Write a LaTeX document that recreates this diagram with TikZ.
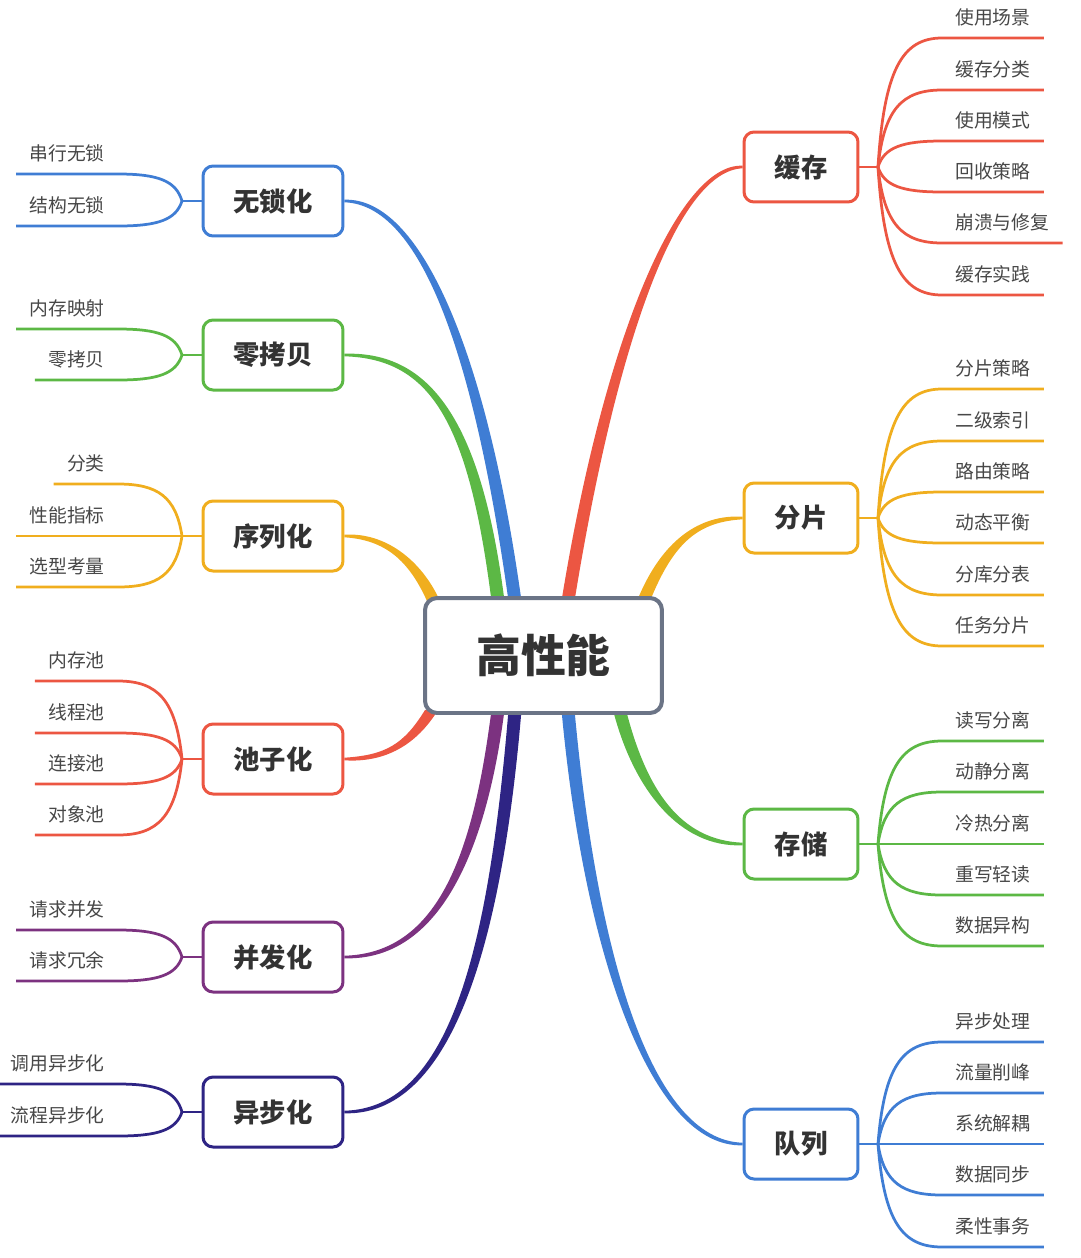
\documentclass[tikz,border=0pt]{standalone}
\usepackage{fontspec}
\setmainfont{Noto Sans CJK SC}
\usetikzlibrary{calc,backgrounds}

\definecolor{cred}{HTML}{EC5642}
\definecolor{corange}{HTML}{F0AE1E}
\definecolor{cgreen}{HTML}{5CB845}
\definecolor{cblue}{HTML}{3F7DD4}
\definecolor{cpurple}{HTML}{7C3280}
\definecolor{cnavy}{HTML}{2E2484}
\definecolor{hubgray}{HTML}{6B7486}
\definecolor{textdark}{HTML}{333333}
\definecolor{textgray}{HTML}{474747}

\tikzset{
  hub/.style={draw=hubgray, line width=0.08cm, rounded corners=0.24cm, fill=white,
    minimum width=4.74cm, minimum height=2.3cm, text=textdark,
    font=\fontsize{25.5}{30}\selectfont\bfseries},
  topic/.style={draw=#1, line width=0.06cm, rounded corners=0.2cm, fill=white,
    minimum height=1.4cm, text=textdark, font=\fontsize{15}{18}\selectfont\bfseries},
  rtopic/.style={topic=#1, minimum width=2.28cm},
  ltopic/.style={topic=#1, minimum width=2.8cm},
  leaf/.style={inner xsep=0.26cm, inner ysep=0.22cm, text height=0.8em, text depth=0.15em,
    text=textgray, font=\fontsize{10.7}{12}\selectfont},
  twig/.style={line width=0.055cm},
}

% thick-to-thin link from the hub to a topic
\newcommand{\mainlink}[6]{%
  \fill[#1] ($(#2)+(-6.5,0)$) .. controls ($(#3)+(-6.5,0)$) and ($(#4)+(0,3*#6)$) .. ($(#5)+(0,#6)$)
    -- ($(#5)-(0,#6)$) .. controls ($(#4)-(0,3*#6)$) and ($(#3)+(6.5,0)$) .. ($(#2)+(6.5,0)$) -- cycle;}

% leaf on the right: colour, junction, name, y, text
\newcommand{\rleaf}[5]{%
  \node[leaf, anchor=south west] (#3) at (942,#4) {#5};
  \draw[twig, #1] (#2) .. controls ($(#2)!0.75!(#2 |- #3.south west)+(6,0)$) and ($(#3.south west)+(-40,0)$) .. (#3.south west) -- (#3.south east);}

% leaf on the left: colour, junction, name, y, text
\newcommand{\lleaf}[5]{%
  \node[leaf, anchor=south east] (#3) at (118,#4) {#5};
  \draw[twig, #1] (#3.south west) -- (#3.south east) .. controls ($(#3.south east)+(40,0)$) and ($(#2)!0.75!(#2 |- #3.south east)+(-6,0)$) .. (#2);}

\begin{document}
\begin{tikzpicture}[x=0.02cm, y=-0.02cm]
  \useasboundingbox (0,0) rectangle (1080,1258);

  \node[hub] (hub) at (543.5,655.5) {高性能};

  % right side
  \node[rtopic=cred]    (cache) at (801,167)  {缓存};
  \node[rtopic=corange] (shard) at (801,518)  {分片};
  \node[rtopic=cgreen]  (store) at (801,844)  {存储};
  \node[rtopic=cblue]   (queue) at (801,1144) {队列};

  % left side
  \node[ltopic=cblue]   (lockfree) at (273,201)  {无锁化};
  \node[ltopic=cgreen]  (zerocopy) at (273,355)  {零拷贝};
  \node[ltopic=corange] (serial)   at (273,536)  {序列化};
  \node[ltopic=cred]    (pool)     at (273,759)  {池子化};
  \node[ltopic=cpurple] (concur)   at (273,957)  {并发化};
  \node[ltopic=cnavy]   (async)    at (273,1112) {异步化};

  % where the hub links start
  \coordinate (sSerial) at ($(hub.north)+(-110,5)$);
  \coordinate (sZero)   at ($(hub.north)+(-45.5,5)$);
  \coordinate (sLock)   at ($(hub.north)+(-28.5,5)$);
  \coordinate (sCache)  at ($(hub.north)+(24.5,5)$);
  \coordinate (sShard)  at ($(hub.north)+(100,5)$);
  \coordinate (sPool)   at ($(hub.south)+(-112,-5)$);
  \coordinate (sConcur) at ($(hub.south)+(-45.5,-5)$);
  \coordinate (sAsync)  at ($(hub.south)+(-28.5,-5)$);
  \coordinate (sQueue)  at ($(hub.south)+(24.5,-5)$);
  \coordinate (sStore)  at ($(hub.south)+(76,-5)$);

  \begin{pgfonlayer}{background}
    \mainlink{cblue}{sLock}{480,350}{420,201}{lockfree.east}{1.3}
    \mainlink{cgreen}{sZero}{475,420}{430,355}{zerocopy.east}{1.3}
    \mainlink{corange}{sSerial}{415,560}{385,536}{serial.east}{1.3}
    \mainlink{cred}{sCache}{612,330}{680,167}{cache.west}{-1.3}
    \mainlink{corange}{sShard}{668,540}{700,518}{shard.west}{-1.3}
    \mainlink{cred}{sPool}{410,745}{385,759}{pool.east}{-1.3}
    \mainlink{cpurple}{sConcur}{480,850}{440,957}{concur.east}{-1.3}
    \mainlink{cnavy}{sAsync}{495,950}{450,1112}{async.east}{-1.3}
    \mainlink{cblue}{sQueue}{590,950}{650,1144}{queue.west}{1.3}
    \mainlink{cgreen}{sStore}{640,790}{680,844}{store.west}{1.3}
  \end{pgfonlayer}

  % junctions
  \coordinate (cacheJ) at (878,167);
  \coordinate (shardJ) at (878,518);
  \coordinate (storeJ) at (878,844);
  \coordinate (queueJ) at (878,1144);
  \coordinate (lockJ)   at (182,201);
  \coordinate (zeroJ)   at (182,355);
  \coordinate (serialJ) at (182,536);
  \coordinate (poolJ)   at (182,759);
  \coordinate (concurJ) at (182,957);
  \coordinate (asyncJ)  at (182,1112);

  \draw[twig, cred]    (cache.east) -- (cacheJ);
  \draw[twig, corange] (shard.east) -- (shardJ);
  \draw[twig, cgreen]  (store.east) -- (storeJ);
  \draw[twig, cblue]   (queue.east) -- (queueJ);
  \draw[twig, cblue]    (lockfree.west) -- (lockJ);
  \draw[twig, cgreen]   (zerocopy.west) -- (zeroJ);
  \draw[twig, corange]  (serial.west) -- (serialJ);
  \draw[twig, cred]     (pool.west) -- (poolJ);
  \draw[twig, cpurple]  (concur.west) -- (concurJ);
  \draw[twig, cnavy]    (async.west) -- (asyncJ);

  % 缓存
  \rleaf{cred}{cacheJ}{c1}{38}{使用场景}
  \rleaf{cred}{cacheJ}{c2}{90}{缓存分类}
  \rleaf{cred}{cacheJ}{c3}{141}{使用模式}
  \rleaf{cred}{cacheJ}{c4}{192}{回收策略}
  \rleaf{cred}{cacheJ}{c5}{243}{崩溃与修复}
  \rleaf{cred}{cacheJ}{c6}{295}{缓存实践}
  % 分片
  \rleaf{corange}{shardJ}{s1}{389}{分片策略}
  \rleaf{corange}{shardJ}{s2}{441}{二级索引}
  \rleaf{corange}{shardJ}{s3}{492}{路由策略}
  \rleaf{corange}{shardJ}{s4}{543}{动态平衡}
  \rleaf{corange}{shardJ}{s5}{595}{分库分表}
  \rleaf{corange}{shardJ}{s6}{646}{任务分片}
  % 存储
  \rleaf{cgreen}{storeJ}{d1}{741}{读写分离}
  \rleaf{cgreen}{storeJ}{d2}{792}{动静分离}
  \rleaf{cgreen}{storeJ}{d3}{844}{冷热分离}
  \rleaf{cgreen}{storeJ}{d4}{895}{重写轻读}
  \rleaf{cgreen}{storeJ}{d5}{946}{数据异构}
  % 队列
  \rleaf{cblue}{queueJ}{q1}{1042}{异步处理}
  \rleaf{cblue}{queueJ}{q2}{1093}{流量削峰}
  \rleaf{cblue}{queueJ}{q3}{1144}{系统解耦}
  \rleaf{cblue}{queueJ}{q4}{1195}{数据同步}
  \rleaf{cblue}{queueJ}{q5}{1247}{柔性事务}

  % 无锁化, 零拷贝, 序列化
  \lleaf{cblue}{lockJ}{l1}{174}{串行无锁}
  \lleaf{cblue}{lockJ}{l2}{226}{结构无锁}
  \lleaf{cgreen}{zeroJ}{z1}{329}{内存映射}
  \lleaf{cgreen}{zeroJ}{z2}{380}{零拷贝}
  \lleaf{corange}{serialJ}{x1}{484}{分类}
  \lleaf{corange}{serialJ}{x2}{536}{性能指标}
  \lleaf{corange}{serialJ}{x3}{587}{选型考量}
  % 池子化
  \lleaf{cred}{poolJ}{p1}{681}{内存池}
  \lleaf{cred}{poolJ}{p2}{733}{线程池}
  \lleaf{cred}{poolJ}{p3}{784}{连接池}
  \lleaf{cred}{poolJ}{p4}{835}{对象池}
  % 并发化, 异步化
  \lleaf{cpurple}{concurJ}{b1}{930}{请求并发}
  \lleaf{cpurple}{concurJ}{b2}{981}{请求冗余}
  \lleaf{cnavy}{asyncJ}{a1}{1084}{调用异步化}
  \lleaf{cnavy}{asyncJ}{a2}{1136}{流程异步化}
\end{tikzpicture}
\end{document}
